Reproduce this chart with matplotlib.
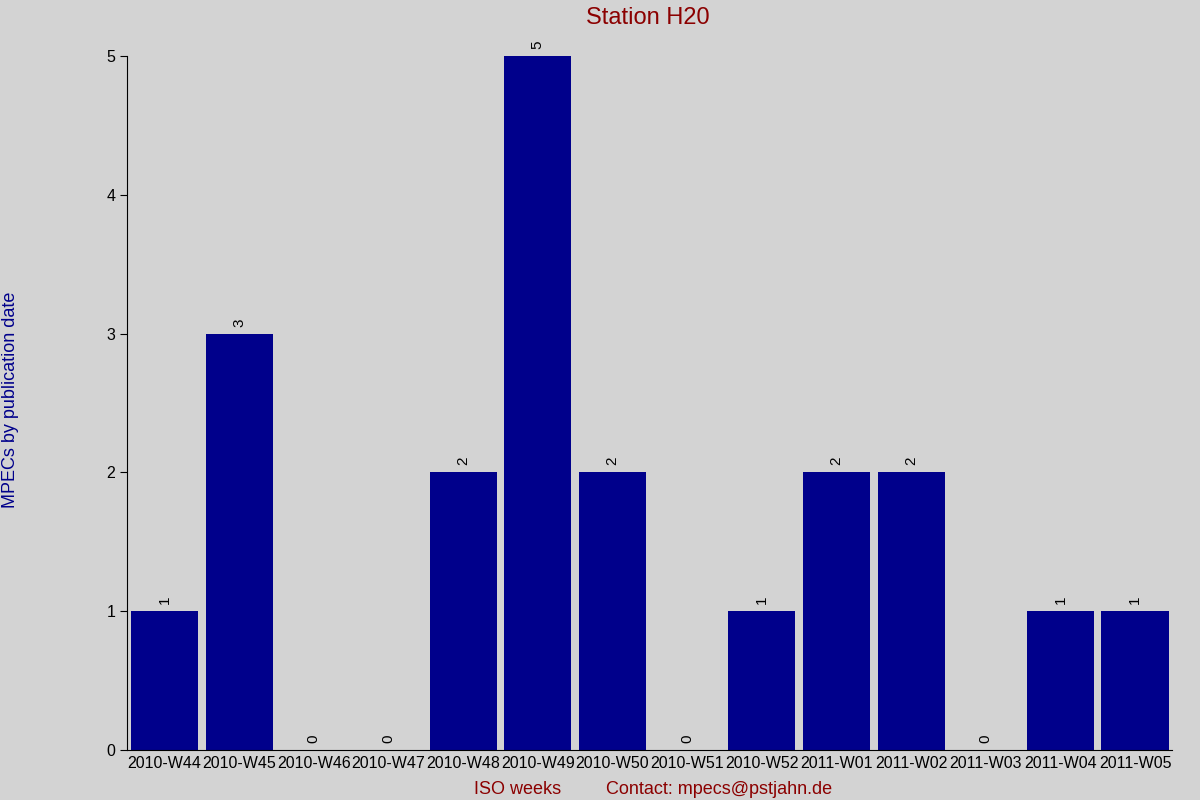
import matplotlib
matplotlib.use("Agg")
import matplotlib.pyplot as plt

weeks = ["2010-W44","2010-W45","2010-W46","2010-W47","2010-W48","2010-W49","2010-W50",
         "2010-W51","2010-W52","2011-W01","2011-W02","2011-W03","2011-W04","2011-W05"]
counts = [1,3,0,0,2,5,2,0,1,2,2,0,1,1]

plt.rcParams['font.family'] = ['Liberation Sans', 'DejaVu Sans']
fig = plt.figure(figsize=(12, 8), dpi=100, facecolor='#d3d3d3')
ax = fig.add_axes([0.106, 0.0625, 0.871, 0.8675])
ax.set_facecolor('#d3d3d3')
x = range(len(weeks))
ax.bar(x, counts, width=0.9, color='#00008b')
for xi, c in zip(x, counts):
    ax.text(xi, c + 0.05, str(c), rotation=90, ha='center', va='bottom', fontsize=11, color='black')
ax.set_xlim(-0.5, len(weeks) - 0.5)
ax.set_ylim(0, 5)
ax.set_xticks(list(x))
ax.set_xticklabels(weeks, fontsize=11.5)
ax.set_yticks(range(6))
ax.tick_params(axis='y', labelsize=11.5, length=5, direction='out')
ax.tick_params(axis='x', length=0, pad=4, top=True)
for s in ['top', 'right']:
    ax.spines[s].set_visible(False)
fig.text(0.54, 0.977, "Station H20", color='#8b0000', fontsize=17, ha='center', va='center')
fig.text(0.009, 0.5, "MPECs by publication date", color='#00008b', fontsize=13,
         rotation=90, ha='center', va='center')
fig.text(0.431, 0.008, "ISO weeks", color='#8b0000', fontsize=13, ha='center')
fig.text(0.599, 0.008, "Contact: mpecs@pstjahn.de", color='#8b0000', fontsize=13, ha='center')
fig.savefig("out.png", dpi=100, facecolor=fig.get_facecolor())
